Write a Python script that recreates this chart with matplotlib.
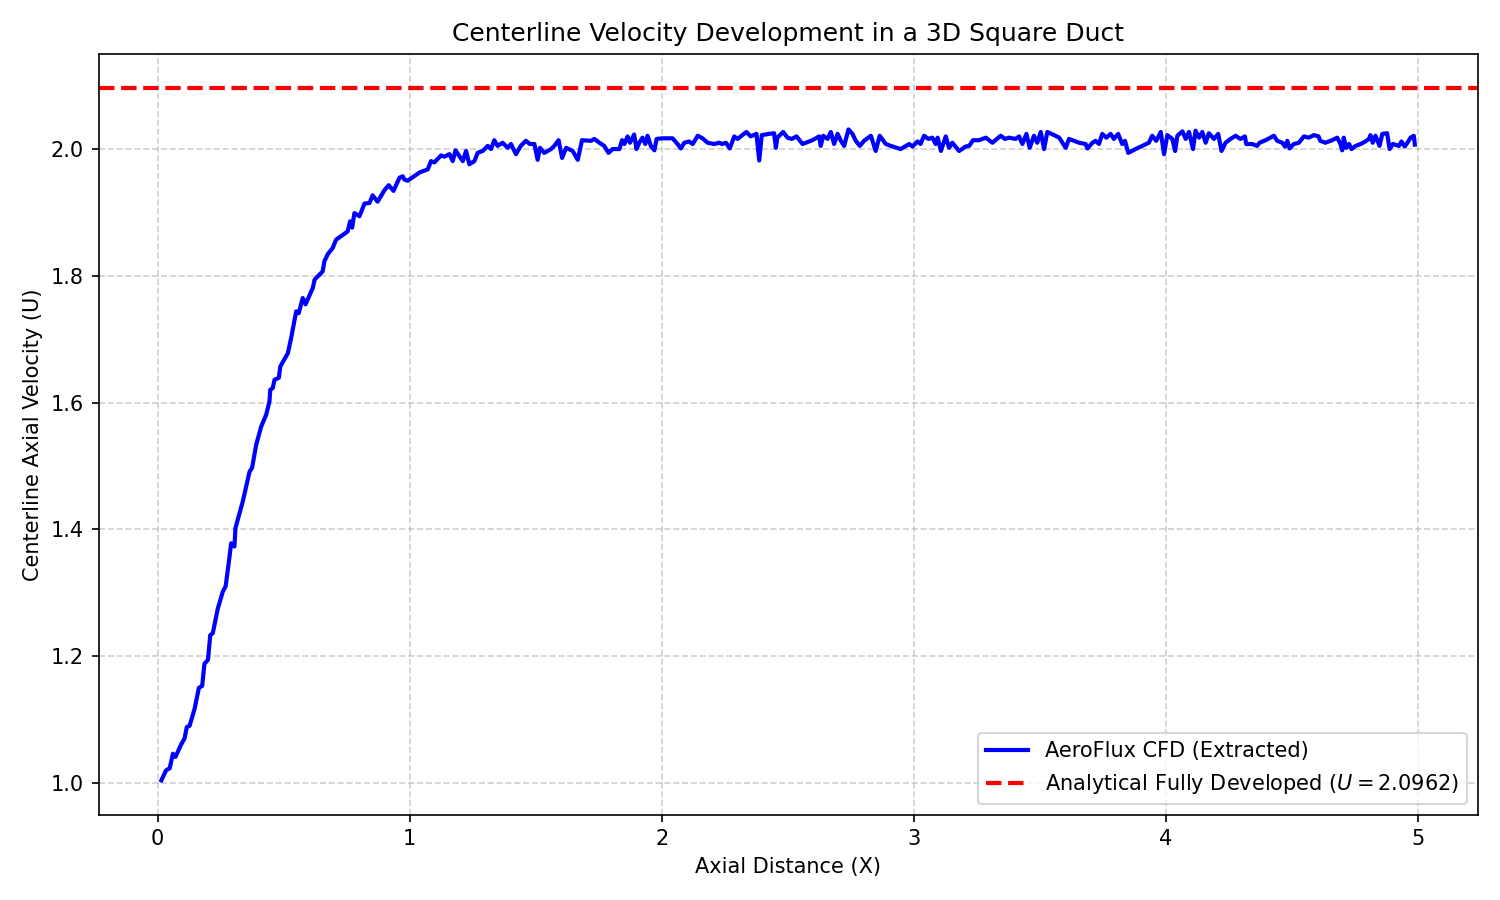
import numpy as np
import matplotlib
matplotlib.use("Agg")
import matplotlib.pyplot as plt

# values
x_dist = [0.015, 0.034, 0.048, 0.061, 0.071, 0.094, 0.107, 0.116, 0.127, 0.147,
          0.164, 0.177, 0.186, 0.200, 0.209, 0.219, 0.239, 0.259, 0.270, 0.283,
          0.292, 0.305, 0.309, 0.338, 0.365, 0.375, 0.391, 0.411, 0.431, 0.444,
          0.447, 0.457, 0.464, 0.481, 0.487, 0.517, 0.530, 0.550, 0.560, 0.576,
          0.587, 0.616, 0.623, 0.655, 0.662, 0.675, 0.695, 0.708, 0.754, 0.764,
          0.772, 0.781, 0.801, 0.821, 0.841, 0.853, 0.873, 0.900, 0.917, 0.936,
          0.960, 0.973, 0.979, 0.992, 1.039, 1.072, 1.085, 1.098, 1.125, 1.138,
          1.158, 1.171, 1.182, 1.197, 1.211, 1.224, 1.237, 1.257, 1.270, 1.290,
          1.310, 1.323, 1.336, 1.349, 1.369, 1.389, 1.402, 1.422, 1.441, 1.461,
          1.477, 1.495, 1.508, 1.517, 1.534, 1.561, 1.574, 1.591, 1.605, 1.621,
          1.647, 1.667, 1.684, 1.720, 1.733, 1.753, 1.772, 1.789, 1.805, 1.832,
          1.843, 1.852, 1.865, 1.874, 1.891, 1.900, 1.911, 1.924, 1.935, 1.944,
          1.957, 1.971, 1.980, 2.004, 2.043, 2.063, 2.076, 2.090, 2.109, 2.123,
          2.143, 2.162, 2.182, 2.209, 2.228, 2.239, 2.255, 2.270, 2.288, 2.301,
          2.317, 2.336, 2.353, 2.376, 2.387, 2.397, 2.426, 2.446, 2.453, 2.459,
          2.482, 2.499, 2.516, 2.535, 2.559, 2.598, 2.625, 2.631, 2.641, 2.658,
          2.671, 2.684, 2.698, 2.711, 2.724, 2.741, 2.757, 2.770, 2.786, 2.803,
          2.830, 2.849, 2.865, 2.889, 2.909, 2.948, 2.982, 2.995, 3.015, 3.027,
          3.041, 3.058, 3.074, 3.087, 3.095, 3.108, 3.127, 3.140, 3.153, 3.180,
          3.206, 3.220, 3.235, 3.259, 3.286, 3.312, 3.345, 3.362, 3.378, 3.404,
          3.418, 3.431, 3.447, 3.460, 3.477, 3.490, 3.504, 3.517, 3.530, 3.557,
          3.577, 3.603, 3.616, 3.656, 3.682, 3.689, 3.709, 3.721, 3.735, 3.748,
          3.764, 3.781, 3.794, 3.811, 3.827, 3.838, 3.851, 3.880, 3.907, 3.933,
          3.946, 3.962, 3.980, 3.993, 4.006, 4.026, 4.037, 4.046, 4.066, 4.079,
          4.092, 4.108, 4.118, 4.132, 4.145, 4.158, 4.171, 4.191, 4.208, 4.221,
          4.237, 4.257, 4.277, 4.296, 4.314, 4.319, 4.343, 4.362, 4.372, 4.396,
          4.429, 4.442, 4.462, 4.473, 4.482, 4.491, 4.508, 4.528, 4.548, 4.567,
          4.587, 4.606, 4.613, 4.633, 4.660, 4.680, 4.693, 4.700, 4.706, 4.716,
          4.727, 4.737, 4.753, 4.773, 4.792, 4.806, 4.812, 4.821, 4.832, 4.848,
          4.859, 4.878, 4.888, 4.901, 4.925, 4.935, 4.948, 4.962, 4.971, 4.984,
          4.988]
u_center = [1.004, 1.020, 1.023, 1.046, 1.041, 1.061, 1.070, 1.088, 1.090, 1.117,
            1.150, 1.153, 1.188, 1.194, 1.233, 1.236, 1.275, 1.302, 1.310, 1.349,
            1.378, 1.373, 1.402, 1.444, 1.491, 1.497, 1.533, 1.562, 1.581, 1.602,
            1.620, 1.623, 1.636, 1.639, 1.657, 1.678, 1.702, 1.744, 1.741, 1.765,
            1.755, 1.781, 1.794, 1.807, 1.823, 1.834, 1.844, 1.857, 1.870, 1.886,
            1.876, 1.899, 1.894, 1.914, 1.915, 1.927, 1.917, 1.935, 1.943, 1.934,
            1.955, 1.957, 1.952, 1.950, 1.963, 1.968, 1.981, 1.979, 1.990, 1.988,
            1.992, 1.981, 1.998, 1.989, 1.981, 1.997, 1.976, 1.981, 1.994, 1.997,
            2.005, 2.000, 2.014, 2.005, 2.010, 2.002, 2.008, 1.992, 2.005, 2.013,
            2.008, 2.008, 1.983, 2.002, 1.994, 2.000, 2.005, 2.014, 1.986, 2.002,
            1.997, 1.983, 2.014, 2.013, 2.016, 2.010, 2.005, 1.994, 2.000, 2.000,
            2.014, 2.008, 2.020, 2.010, 2.023, 2.000, 2.010, 2.018, 2.008, 2.021,
            2.005, 1.998, 2.016, 2.017, 2.017, 2.008, 2.001, 2.010, 2.012, 2.008,
            2.021, 2.017, 2.010, 2.008, 2.010, 2.008, 2.010, 2.001, 2.020, 2.016,
            2.021, 2.027, 2.020, 2.024, 1.982, 2.022, 2.024, 2.025, 2.002, 2.018,
            2.027, 2.018, 2.016, 2.020, 2.008, 2.014, 2.020, 2.005, 2.021, 2.016,
            2.027, 2.008, 2.024, 2.013, 2.005, 2.031, 2.024, 2.013, 2.005, 2.013,
            2.021, 1.997, 2.021, 2.008, 2.005, 2.000, 2.008, 2.004, 2.012, 2.008,
            2.021, 2.016, 2.018, 2.008, 2.018, 1.997, 2.020, 2.002, 2.010, 1.997,
            2.004, 2.005, 2.014, 2.014, 2.018, 2.010, 2.021, 2.016, 2.018, 2.016,
            2.020, 2.008, 2.024, 2.002, 2.021, 2.010, 2.027, 2.000, 2.027, 2.022,
            2.018, 2.002, 2.016, 2.010, 2.008, 2.001, 2.010, 2.013, 2.008, 2.024,
            2.018, 2.024, 2.016, 2.024, 2.008, 2.013, 1.994, 2.000, 2.005, 2.010,
            2.021, 2.013, 2.027, 1.992, 2.022, 2.016, 1.997, 2.021, 2.028, 2.016,
            2.027, 2.000, 2.029, 2.018, 2.027, 2.010, 2.025, 2.016, 2.024, 1.997,
            2.010, 2.016, 2.021, 2.016, 2.020, 2.008, 2.008, 2.005, 2.010, 2.014,
            2.021, 2.013, 2.010, 2.004, 2.013, 2.001, 2.008, 2.010, 2.020, 2.018,
            2.022, 2.020, 2.013, 2.010, 2.014, 2.018, 2.008, 1.998, 2.018, 2.002,
            2.008, 2.000, 2.005, 2.008, 2.012, 2.016, 2.022, 2.010, 2.021, 2.005,
            2.024, 2.025, 2.000, 2.008, 2.005, 2.012, 2.004, 2.012, 2.018, 2.021,
            2.007]

u_analytical = 2.0962

fig, ax = plt.subplots(figsize=(10, 6), dpi=150)

ax.plot(x_dist, u_center, color="blue", linewidth=2, label="AeroFlux CFD (Extracted)")
ax.axhline(u_analytical, color="red", linestyle="--", linewidth=2,
           label=r"Analytical Fully Developed ($U = 2.0962$)")

ax.set_title("Centerline Velocity Development in a 3D Square Duct")
ax.set_xlabel("Axial Distance (X)")
ax.set_ylabel("Centerline Axial Velocity (U)")
ax.set_ylim(0.95, 2.15)
ax.grid(True, linestyle="--", alpha=0.6)
ax.legend(loc="lower right")

plt.tight_layout()
plt.savefig("out.png")
